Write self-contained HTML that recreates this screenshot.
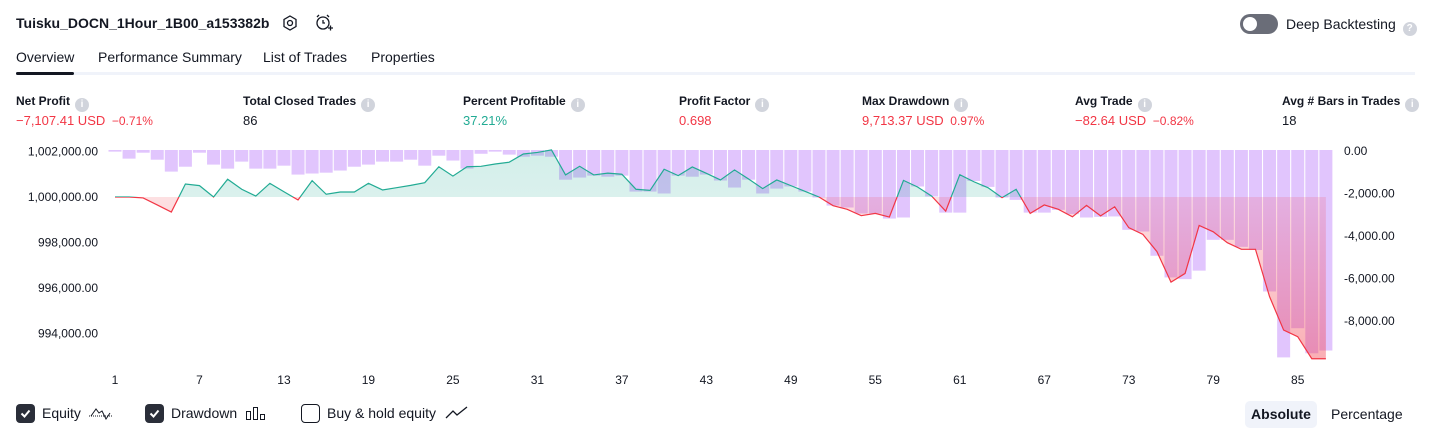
<!DOCTYPE html>
<html><head><meta charset="utf-8">
<style>
*{margin:0;padding:0;box-sizing:border-box}
body{width:1431px;height:438px;background:#fff;font-family:"Liberation Sans",sans-serif;color:#131722;position:relative;overflow:hidden}
.a{position:absolute;white-space:nowrap}
.title{left:16px;top:15px;font-size:14px;font-weight:bold}
.tab{top:49px;font-size:14px;color:#131722}
.lbl{top:94px;font-size:12px;font-weight:bold;color:#131722}
.val{top:113px;font-size:13px}
.info{display:inline-block;width:14px;height:14px;border-radius:7px;background:#d1d4dc;color:#fff;font-size:10px;text-align:center;line-height:14px;vertical-align:-2px;margin-left:5px;font-weight:bold}
.red{color:#f23645}.grn{color:#22ab94}
.cb{top:404px;width:19px;height:19px;border-radius:4px}
.cbt{top:405px;font-size:14px}
.ax{font-size:12px;fill:#131722;font-family:"Liberation Sans",sans-serif}
</style></head><body>
<div class="a title">Tuisku_DOCN_1Hour_1B00_a153382b</div>
<svg class="a" style="left:281px;top:14px" width="18" height="18"><polygon points="9,2 15,5.5 15,12.5 9,16 3,12.5 3,5.5" fill="none" stroke="#131722" stroke-width="1.3"/><circle cx="9" cy="9" r="2.5" fill="none" stroke="#131722" stroke-width="1.3"/></svg>
<svg class="a" style="left:314px;top:13px" width="20" height="20"><circle cx="9" cy="10" r="6" fill="none" stroke="#131722" stroke-width="1.3"/><path d="M9 7v3h2M3 4l2-2M15 4l-2-2M14 15h5M16.5 12.5v5" stroke="#131722" stroke-width="1.3" fill="none"/></svg>
<div class="a" style="left:1240px;top:14px;width:38px;height:20px;border-radius:10px;background:#6a6d78"><div style="position:absolute;left:3px;top:3px;width:14px;height:14px;border-radius:7px;background:#fff"></div></div>
<div class="a" style="left:1286px;top:16px;font-size:14px">Deep Backtesting<span class="info" style="margin-left:7px">?</span></div>
<div class="a tab" style="left:16px">Overview</div>
<div class="a tab" style="left:98px">Performance Summary</div>
<div class="a tab" style="left:263px">List of Trades</div>
<div class="a tab" style="left:371px">Properties</div>
<div class="a" style="left:16px;top:72px;width:1399px;height:3px;background:#f0f3fa"></div>
<div class="a" style="left:16px;top:72px;width:58px;height:3px;background:#131722;border-radius:2px"></div>

<div class="a lbl" style="left:16px">Net Profit<span class="info">i</span></div>
<div class="a val red" style="left:16px">−7,107.41 USD <span style="font-size:12px;margin-left:3px">−0.71%</span></div>
<div class="a lbl" style="left:243px">Total Closed Trades<span class="info">i</span></div>
<div class="a val" style="left:243px">86</div>
<div class="a lbl" style="left:463px">Percent Profitable<span class="info">i</span></div>
<div class="a val grn" style="left:463px">37.21%</div>
<div class="a lbl" style="left:679px">Profit Factor<span class="info">i</span></div>
<div class="a val red" style="left:679px">0.698</div>
<div class="a lbl" style="left:862px">Max Drawdown<span class="info">i</span></div>
<div class="a val red" style="left:862px">9,713.37 USD <span style="font-size:12px;margin-left:3px">0.97%</span></div>
<div class="a lbl" style="left:1075px">Avg Trade<span class="info">i</span></div>
<div class="a val red" style="left:1075px">−82.64 USD <span style="font-size:12px;margin-left:3px">−0.82%</span></div>
<div class="a lbl" style="left:1282px">Avg # Bars in Trades<span class="info">i</span></div>
<div class="a val" style="left:1282px">18</div>

<svg id="chart" class="a" style="left:0;top:135px" width="1431" height="250"></svg>

<div class="a cb" style="left:16px;background:#2a2e39"><svg width="19" height="19"><path d="M5.5 9.5l3 3 5-6" stroke="#fff" stroke-width="2" fill="none"/></svg></div>
<div class="a cbt" style="left:42px">Equity</div>
<svg class="a" style="left:88px;top:404px" width="26" height="18"><path d="M1 12h24" stroke="#131722" stroke-dasharray="1 1"/><path d="M3 12l5-7 3 4 3-2 4 8 4-6" stroke="#131722" fill="none"/></svg>
<div class="a cb" style="left:145px;background:#2a2e39"><svg width="19" height="19"><path d="M5.5 9.5l3 3 5-6" stroke="#fff" stroke-width="2" fill="none"/></svg></div>
<div class="a cbt" style="left:171px">Drawdown</div>
<svg class="a" style="left:245px;top:405px" width="22" height="16"><rect x="1.5" y="6.5" width="4" height="8" fill="none" stroke="#131722"/><rect x="8.5" y="2.5" width="4" height="12" fill="none" stroke="#131722"/><rect x="15.5" y="9.5" width="4" height="5" fill="none" stroke="#131722"/></svg>
<div class="a cb" style="left:301px;border:1.5px solid #131722"></div>
<div class="a cbt" style="left:327px">Buy &amp; hold equity</div>
<svg class="a" style="left:445px;top:405px" width="24" height="16"><path d="M1 13l7-7 4 4 10-8" stroke="#131722" fill="none" stroke-width="1.3"/></svg>
<div class="a" style="left:1245px;top:401px;width:72px;height:27px;background:#f0f3fa;border-radius:5px;font-size:14px;font-weight:bold;text-align:center;line-height:27px">Absolute</div>
<div class="a" style="left:1331px;top:406px;font-size:14px">Percentage</div>

<script>
const equity=[0,0,-40,-350,-660,570,500,0,780,340,40,600,230,-130,720,120,220,220,600,310,410,510,630,1330,920,1330,1350,1450,1530,1890,1960,2070,970,1350,970,1050,1000,340,290,1220,940,1320,1040,750,1190,790,370,750,500,250,0,-380,-540,-820,-720,-880,730,440,40,-620,980,670,410,-30,340,-720,-350,-540,-870,-370,-830,-430,-1350,-1640,-2400,-3740,-3360,-1250,-1530,-2010,-2300,-2300,-4380,-5850,-6140,-7110,-7110];
const drawdown=[-30,-360,-80,-410,-970,-740,-80,-640,-830,-500,-830,-830,-690,-1110,-1060,-1020,-920,-740,-640,-500,-500,-410,-690,-220,-450,-830,-130,-30,-170,-270,-220,-270,-1350,-1250,-1160,-1210,-1160,-1910,-1910,-2000,-1160,-1210,-1110,-1390,-1720,-1350,-2000,-1770,-1670,-1910,-2190,-2570,-2660,-2940,-2940,-3180,-3130,-1670,-2140,-2900,-2900,-1410,-1690,-2190,-2300,-2900,-2900,-2770,-2970,-3130,-3100,-3080,-3710,-3790,-4930,-5950,-6030,-5630,-4180,-4180,-4510,-4660,-6610,-9713,-8340,-9520,-9390];
const xTicks=[1,7,13,19,25,31,37,43,49,55,61,67,73,79,85];
const leftTicks=[1002000,1000000,998000,996000,994000];
const rightTicks=[0,-2000,-4000,-6000,-8000];
const base=1000000;
const NS='http://www.w3.org/2000/svg';
const svg=document.getElementById('chart');
const OY=135;
const x=i=>115+(i-1)*14.08;
const yL=v=>197-OY-(v-base)*0.02275;
const yR=v=>151-OY-v*0.02125;
function mk(t,a){const e=document.createElementNS(NS,t);for(const k in a)e.setAttribute(k,a[k]);svg.appendChild(e);return e;}
const by=yL(base);
const defs=mk('defs',{});
defs.innerHTML='<linearGradient id="gg" x1="0" y1="0" x2="0" y2="1"><stop offset="0" stop-color="#22ab94" stop-opacity="0.2"/><stop offset="1" stop-color="#22ab94" stop-opacity="0.05"/></linearGradient><linearGradient id="rg" x1="0" y1="0" x2="0" y2="1"><stop offset="0" stop-color="#f23645" stop-opacity="0.08"/><stop offset="1" stop-color="#f23645" stop-opacity="0.4"/></linearGradient><clipPath id="above"><rect x="0" y="0" width="1431" height="'+by+'"/></clipPath><clipPath id="below"><rect x="0" y="'+by+'" width="1431" height="300"/></clipPath>';
drawdown.forEach((v,k)=>{const i=k+1;const r=mk('rect',{x:x(i)-6.5,y:yR(0)-1,width:13,height:Math.max(1,yR(v)-yR(0)+1),fill:'#e1c5fd'});

});
let pts=equity.map((v,k)=>[x(k+1),yL(base+v)]);
const area='M'+pts[0][0]+','+by+' '+pts.map(p=>'L'+p[0]+','+p[1]).join(' ')+' L'+pts[pts.length-1][0]+','+by+'Z';
const line='M'+pts.map(p=>p[0]+','+p[1]).join(' L');
const ga=mk('path',{d:area,fill:'url(#gg)','clip-path':'url(#above)'});


const ra=mk('path',{d:area,fill:'url(#rg)','clip-path':'url(#below)'});


const gl=mk('path',{d:line,fill:'none',stroke:'#22ab94','stroke-width':1.2,'clip-path':'url(#above)'});


const rl=mk('path',{d:line,fill:'none',stroke:'#f23645','stroke-width':1.2,'clip-path':'url(#below)'});


leftTicks.forEach(v=>{const t=mk('text',{x:98,y:yL(v)+4,'text-anchor':'end',class:'ax'});t.textContent=v.toLocaleString('en-US',{minimumFractionDigits:2});

});
rightTicks.forEach(v=>{const t=mk('text',{x:1344,y:yR(v)+4,class:'ax'});t.textContent=(v<0?'-':'')+Math.abs(v).toLocaleString('en-US',{minimumFractionDigits:2});

});
xTicks.forEach(v=>{const t=mk('text',{x:x(v),y:249,'text-anchor':'middle',class:'ax'});t.textContent=v;

});
</script>
</body></html>
